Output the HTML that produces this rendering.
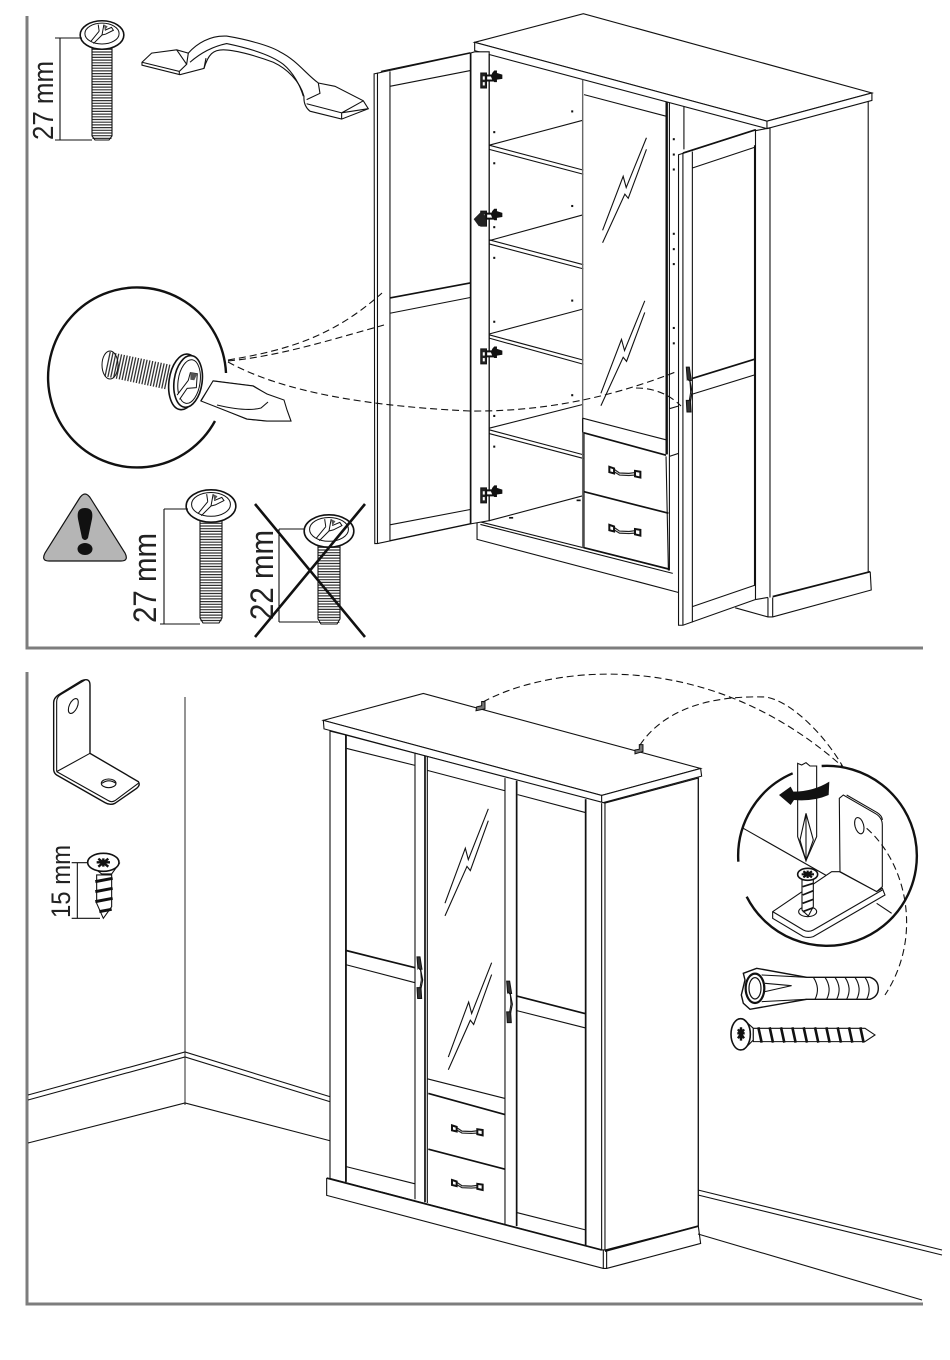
<!DOCTYPE html>
<html><head><meta charset="utf-8"><style>
html,body{margin:0;padding:0;background:#fff;width:950px;height:1360px;overflow:hidden}
svg{display:block}
svg *{vector-effect:non-scaling-stroke}
text{font-family:"Liberation Sans",Arial,sans-serif;fill:#222}
.l{fill:none;stroke:#111;stroke-width:1.1}
.t{fill:none;stroke:#111;stroke-width:1.7}
.w{fill:#fff;stroke:#111;stroke-width:1.1}
.d{fill:none;stroke:#111;stroke-width:1.1;stroke-dasharray:7 4}
</style></head><body>
<svg width="950" height="1360" viewBox="0 0 950 1360" xmlns="http://www.w3.org/2000/svg">
<defs>
<g id="hinge">
<rect x="356" y="176" width="17" height="36" fill="#222" stroke="#111"/>
<rect x="362" y="184" width="6" height="8" fill="#fff"/>
<rect x="362" y="198" width="6" height="8" fill="#fff"/>
<rect x="372" y="182" width="24" height="12" fill="#fff" stroke="#111" stroke-width="2"/>
<path d="M386 184L390 176L396 170H404V176L420 180V190L404 192V198H396L390 192Z" fill="#111"/>
</g>
<g id="dh">
<path d="M16 6L32 15L60 16L78 14" fill="none" stroke="#222" stroke-width="1.2"/>
<path d="M16 12L32 20L60 21L78 20" fill="none" stroke="#222" stroke-width="1.2"/>
<path d="M2 0L16 4V16L2 13Z" fill="#fff" stroke="#111" stroke-width="2"/>
<path d="M78 10L94 12V26L78 23Z" fill="#fff" stroke="#111" stroke-width="2"/>
</g>
<g id="bolt">
<polyline class="l" points="0 223 61 93 70 120 130 0"/>
<polyline class="l" points="0 253 66 136 76 146 130 28"/>
</g>
<g id="vh">
<path d="M3 0H12L18 32H6Z" fill="#333" stroke="#111"/>
<path d="M6 28L14 34L20 60L15 82L6 84" fill="#fff" stroke="#111" stroke-width="1.2"/>
<path d="M14 34L16 60L12 80" fill="none" stroke="#111"/>
<path d="M3 80H15L17 108H5Z" fill="#333" stroke="#111"/>
</g>
<g id="head">
<ellipse cx="0" cy="0" rx="23" ry="15" fill="#fff" stroke="#111" stroke-width="1.6"/>
<ellipse cx="0" cy="-1.5" rx="18" ry="11" fill="#fff" stroke="#111"/>
<path d="M-12 7L-3 -4M-9 9L0 0M-3 -4L-4 -11M0 0L2 -11M3 -5L10 -8L12 -5L4 -1L0 0" fill="none" stroke="#111"/>
<path d="M2 -11L6 -9L3 -5Z" fill="#555"/>
</g>
</defs>

<!-- frames -->
<path d="M27 16V648H923" fill="none" stroke="#7d7d7d" stroke-width="3"/>
<path d="M27 672V1304H923" fill="none" stroke="#7d7d7d" stroke-width="3"/>
<line x1="185" y1="697" x2="185" y2="1105" stroke="#666" stroke-width="1.4"/>

<!-- ==== top panel cabinet ==== -->
<g transform="translate(360.6 0) scale(.3375 .4149)">
<polygon class="w" points="338,102 660,33 1515,224 1204,292"/>
<polygon class="w" points="338,102 338,122 1204,310 1515,242 1515,224 1204,292"/>
<line class="l" x1="1204" y1="292" x2="1204" y2="310"/>
<path class="l" d="M1504 244V1378M1213 308V1440M1170 315V1445M1213 308L1170 315"/>
<path class="w" d="M1110 1465L1207 1487L1207 1440L1110 1440Z" style="stroke:none"/>
<path class="l" d="M1110 1465L1207 1487H1221L1513 1422L1510 1378M1207 1440V1487M1221 1440V1487M1170 1445L1207 1440"/>
<line class="t" x1="1221" y1="1438" x2="1510" y2="1378"/>
<!-- base -->
<path class="l" d="M345 1258V1300L942 1428"/>
<path class="l" d="M355 1258L915 1372M355 1264L925 1382"/>
<!-- interior -->
<path class="l" d="M381 350L658 290M381 350L660 410M381 360L660 420M381 580L658 518M381 578L660 638M381 588L660 648M381 805L658 745M381 807L660 868M381 815L660 878M381 1032L658 975M381 1036L660 1096M381 1045L660 1105M381 1255L658 1195"/>
<line x1="658" y1="192" x2="658" y2="1320" stroke="#666" stroke-width="1.4"/>
<g fill="#111">
<rect x="624" y="266" width="6" height="5"/><rect x="393" y="316" width="6" height="5"/><rect x="393" y="391" width="6" height="5"/><rect x="624" y="494" width="6" height="5"/><rect x="393" y="545" width="6" height="5"/><rect x="393" y="619" width="6" height="5"/><rect x="624" y="722" width="6" height="5"/><rect x="393" y="773" width="6" height="5"/><rect x="624" y="950" width="6" height="5"/><rect x="393" y="1000" width="6" height="5"/><rect x="393" y="1074" width="6" height="5"/>
<rect x="925" y="333" width="6" height="5"/><rect x="925" y="370" width="6" height="5"/><rect x="925" y="406" width="6" height="5"/><rect x="925" y="561" width="6" height="5"/><rect x="925" y="598" width="6" height="5"/><rect x="925" y="634" width="6" height="5"/><rect x="925" y="788" width="6" height="5"/><rect x="925" y="825" width="6" height="5"/>
<rect x="640" y="1204" width="12" height="4"/><rect x="440" y="1246" width="12" height="4"/>
</g>
<!-- mirror door -->
<path class="l" d="M662 228L905 280M905 245V1095M915 248V1375M958 258V360M905 1100L912 1375M915 985L945 978M915 1100L945 1092"/>
<line class="t" x1="908" y1="246" x2="908" y2="1095"/>
<use href="#bolt" transform="translate(717 332)"/>
<use href="#bolt" transform="translate(712 725)"/>
<!-- drawers -->
<path class="l" d="M658 1008L905 1060M658 1008V1042M662 1045V1320"/>
<line class="t" x1="660" y1="1043" x2="905" y2="1097"/>
<line class="t" x1="662" y1="1185" x2="912" y2="1237"/>
<line class="t" x1="662" y1="1320" x2="915" y2="1372"/>
<use href="#dh" transform="translate(735 1125)"/>
<use href="#dh" transform="translate(735 1265)"/>
<!-- left door -->
<path class="w" d="M40 178L325 128L338 125H381V1255L330 1262L50 1310H42Z"/>
<path class="l" d="M50 175V1310M87 172V1305M87 208L325 170M87 755L325 717M87 1265L325 1228M87 1303L325 1262M381 130V1255"/>
<line class="t" x1="87" y1="718" x2="325" y2="682"/>
<line class="t" x1="326" y1="128" x2="326" y2="1262"/>
<line class="l" x1="60" y1="172" x2="325" y2="127"/>
<use href="#hinge" transform="translate(0 0)"/>
<use href="#hinge" transform="translate(0 333)"/>
<path d="M335 528L355 512L370 520L370 545L350 545Z" fill="#222"/>
<use href="#hinge" transform="translate(0 665)"/>
<use href="#hinge" transform="translate(0 1000)"/>
<!-- right door -->
<path class="w" d="M942 373L1170 313V1445L955 1507H942Z"/>
<path class="l" d="M955 370V1507M983 365V1500M983 405L1168 355M983 950L1170 903M983 1462L1170 1410"/>
<line class="t" x1="955" y1="369" x2="1170" y2="313"/>
<line class="t" x1="1168" y1="350" x2="1168" y2="1412"/>
<line class="t" x1="983" y1="912" x2="1170" y2="865"/>
<use href="#vh" transform="translate(962 885)"/>
</g>

<!-- top panel small parts -->
<g transform="translate(20 0) scale(.3333 .4149)">
<path class="w" d="M366 150L395 128L470 120L505 128C530 105 570 85 620 87C680 95 750 110 780 125C830 145 860 180 895 200L945 208L1030 243L1045 262L965 287L870 268Q850 255 852 232C840 195 800 165 760 150C700 132 640 120 610 120C580 120 565 130 552 165L480 180L366 157Z"/>
<path class="l" d="M366 150L478 172L500 155L470 120M478 172V180M505 128L500 155M510 150Q560 115 620 105C680 115 750 130 790 155C820 175 840 205 850 232M895 200L900 225L860 240M860 250L965 272L1045 262M965 272V287M1030 243L965 272M552 165L558 140"/>
<path class="w" d="M543 965L580 918L700 930L740 950L790 965L800 990L812 1015L740 1015L680 1010Z"/>
<path class="l" d="M590 978Q680 995 720 985T745 970"/>
</g>

<!-- screws -->
<g>
<line x1="102" y1="46" x2="102" y2="140" stroke="#333" stroke-width="19" stroke-dasharray="1.2 1.5"/>
<path class="l" d="M92 46V136L95 140H109L112 136V46"/>
<use href="#head" transform="translate(102 35) scale(.95)"/>
<path class="l" d="M55 38H82M55 140H92M60 38V140"/>
<text transform="translate(53 140) rotate(-90)" font-size="29" textLength="79" lengthAdjust="spacingAndGlyphs">27 mm</text>

<line x1="211" y1="520" x2="211" y2="622" stroke="#333" stroke-width="21" stroke-dasharray="1.2 1.5"/>
<path class="l" d="M200 520V618L203 623H219L222 618V520"/>
<use href="#head" transform="translate(211 506) scale(1.08)"/>
<path class="l" d="M160 624H200M164 509H188M164 509V624"/>
<text transform="translate(156 623) rotate(-90)" font-size="32" textLength="90" lengthAdjust="spacingAndGlyphs">27 mm</text>

<line x1="329" y1="544" x2="329" y2="623" stroke="#333" stroke-width="21" stroke-dasharray="1.2 1.5"/>
<path class="l" d="M318 544V619L321 624H337L340 619V544"/>
<use href="#head" transform="translate(329 531) scale(1.08)"/>
<path class="l" d="M279 529H305M279 622H318M279 529V622"/>
<text transform="translate(273 620) rotate(-90)" font-size="32" textLength="90" lengthAdjust="spacingAndGlyphs">22 mm</text>
<path d="M255 504L365 637M365 504L255 637" stroke="#111" stroke-width="2.6" fill="none"/>

<!-- warning -->
<path d="M85 494Q88 494 91 499L125 553Q129 561 121 561H49Q41 561 45 553L79 499Q82 494 85 494Z" fill="#b5b5b5" stroke="#111" stroke-width="1.2"/>
<path d="M85 508C92 508 93 513 92 519L88 538Q85 542 82 538L78 519C77 513 78 508 85 508Z" fill="#111"/>
<ellipse cx="85" cy="549" rx="7.5" ry="6" fill="#111"/>

<!-- magnifier -->
<path d="M215 421A89 90 0 1 1 226 373" fill="none" stroke="#111" stroke-width="2.4"/>
<line x1="107" y1="364" x2="168" y2="377" stroke="#333" stroke-width="25" stroke-dasharray="1.3 1.6"/>
<ellipse cx="110" cy="365" rx="8" ry="14" fill="none" stroke="#111"/>
<g transform="translate(185 382) rotate(8)">
<ellipse cx="-1" cy="0" rx="15" ry="28" fill="#fff" stroke="#111" stroke-width="1.6"/>
<ellipse cx="3" cy="-1" rx="14" ry="26" fill="#fff" stroke="#111" stroke-width="1.6"/>
<ellipse cx="4" cy="-1" rx="11" ry="22" fill="#fff" stroke="#111"/>
<path d="M-6 14L3 -2L4 -10L11 -10L12 4L3 6L-3 18" fill="#fff" stroke="#111"/>
<path d="M4 -10L11 -10L9 -3L5 -3Z" fill="#555"/>
</g>
<path class="w" d="M201 401L213 381L253 386L267 394L284 400L287 410L291 421L267 421L247 419Z"/>
<path class="l" d="M217 405Q247 412 261 408L268 402"/>
</g>

<!-- dashes top -->
<path class="d" d="M228 360C290 350 335 335 382 293M228 361C280 356 330 340 384 325M228 362C270 385 340 405 470 411C560 412 630 390 678 371M636 388C655 388 670 395 681 406"/>

<!-- ==== bottom panel walls ==== -->
<path class="l" d="M28 1095L185 1052L331 1097M28 1100L185 1057L331 1102M28 1143L185 1103L331 1141M698 1190L942 1250M698 1195L942 1255M698 1234L922 1300"/>

<!-- bottom cabinet -->
<g transform="translate(310 680) scale(.3333 .3846)">
<polygon class="w" points="40,105 340,35 1172,230 875,300"/>
<polygon class="w" points="40,105 42,127 875,320 1175,250 1172,230 875,300"/>
<line class="l" x1="875" y1="300" x2="875" y2="320"/>
<path class="w" d="M60 133V1296L875 1482H885L1165 1420V255L885 320L107 143Z"/>
<path class="l" d="M107 143V1305M875 320V1482M885 320V1482M1165 255V1420M315 190V1350M110 178L315 222M107 740L315 787M107 1265L315 1310M352 235L585 288M352 1037L585 1088M352 1037V1075M585 255V1415M623 298L828 345M622 860L828 905M622 1385L828 1430M828 310V1470M352 200V1360"/>
<path class="t" d="M108 143V1305M345 197V1358M620 262V1420M107 703L315 748M355 1075L585 1130M355 1220L585 1272M622 822L828 868M50 1295L875 1482M885 1485L1165 1420M827 310V1470"/>
<path class="l" d="M50 1295V1340L880 1530H890L1172 1465L1165 1420M880 1482V1530M890 1482V1530"/>
<use href="#bolt" transform="translate(405 335) scale(1 1.1)"/>
<use href="#bolt" transform="translate(415 735) scale(1 1.1)"/>
<use href="#dh" transform="translate(424 1158)"/>
<use href="#dh" transform="translate(424 1300)"/>
<use href="#vh" transform="translate(318 720)"/>
<use href="#vh" transform="translate(587 783)"/>
<path d="M500 70L515 67V56H525V75L498 80Z" fill="#777" stroke="#111"/>
<path d="M975 182L988 180V168H999V186L975 192Z" fill="#777" stroke="#111"/>
</g>
<path class="d" d="M483 702C540 670 700 640 843 767M640 745C660 715 700 695 765 697C790 700 825 735 843 767"/>

<!-- detail circle -->
<g transform="translate(700 740) scale(.3333)">
<path d="M365 78A270 270 0 1 1 140 470" fill="none" stroke="#111" stroke-width="2.4"/>
<path d="M115 365A270 270 0 0 1 278 100" fill="none" stroke="#111" stroke-width="2.4"/>
<path class="l" d="M130 265L385 410M530 490L575 520"/>
<path class="w" d="M293 70L305 75L318 68L330 78L350 78V290L318 362L293 290Z"/>
<path class="l" d="M318 220L300 300L318 362L340 300ZM318 220V362"/>
<path d="M388 125L386 165Q340 185 282 180L272 195L237 165L272 140L280 155Q340 155 388 125Z" fill="#111"/>
<path class="w" d="M418 175L430 165L525 220Q547 232 547 255V440L530 455L420 395Z"/>
<path class="l" d="M440 165L532 218Q547 228 547 240"/>
<ellipse class="w" cx="478" cy="257" rx="13" ry="25" transform="rotate(-15 478 257)"/>
<path class="w" d="M218 515L395 395L418 395L530 455L547 445L555 465L340 590Q325 595 310 590L218 535Z"/>
<path class="l" d="M218 515L310 570Q325 578 340 570L547 450"/>
<ellipse class="w" cx="323" cy="515" rx="27" ry="15"/>
<path class="w" d="M306 420H340V500L325 528L306 510Z"/>
<path class="t" d="M308 440L340 430M308 465L340 452M308 490L340 478M308 515L340 503"/>
<ellipse class="w" cx="323" cy="403" rx="30" ry="18" style="stroke-width:1.6"/>
<path d="M305 403H342M323 392V414M310 394L336 412M336 394L310 412" stroke="#111" stroke-width="2.2"/>
<path class="d" d="M500 265C620 370 670 590 555 765"/>
<!-- plug -->
<path class="w" d="M130 700L170 685L320 712H510Q535 720 535 745Q535 770 510 778H320L150 808L130 790L124 765L135 720Z" style="stroke-width:1.4"/>
<ellipse class="w" cx="165" cy="745" rx="28" ry="44" style="stroke-width:2.2"/>
<ellipse class="w" cx="165" cy="745" rx="18" ry="32" style="stroke-width:1.2"/>
<path class="l" d="M195 730L275 737M195 755L275 737M185 705L320 712M185 785L320 778"/>
<path class="l" d="M340 712Q362 745 345 778M375 712Q397 745 380 778M405 712Q427 745 410 778M435 712Q457 745 440 778M465 712Q487 745 470 778M495 712Q517 745 500 778"/>
<!-- wood screw -->
<ellipse class="w" cx="122" cy="883" rx="29" ry="47" style="stroke-width:1.6"/>
<path class="l" d="M130 838L160 865V900L130 930"/>
<path d="M112 880H134M123 862V902M114 868L132 895M132 868L114 895" stroke="#111" stroke-width="2.4"/>
<path class="w" d="M160 865H495L525 885L495 905H160Z"/>
<path d="M175 862L185 908M209 862L219 908M243 862L253 908M277 862L287 908M311 862L321 908M345 862L355 908M379 862L389 908M413 862L423 908M447 862L457 908M481 862L491 908" stroke="#111" stroke-width="2.6" fill="none"/>
</g>

<!-- bracket -->
<g transform="translate(20 670) scale(.3333)">
<path class="w" d="M101 100Q100 85 115 75L185 32Q210 22 210 45V250L355 335Q362 345 350 355L285 400Q270 407 255 398L110 315Q100 308 101 295Z" style="stroke-width:1.4"/>
<path class="l" d="M110 305V95Q110 80 125 72L195 30M110 305L210 250M110 305L265 392Q275 398 285 392L355 340"/>
<ellipse class="w" cx="160" cy="108" rx="12" ry="24" transform="rotate(25 160 108)"/>
<ellipse class="w" cx="266" cy="340" rx="22" ry="13"/>
<path class="l" d="M246 340Q266 325 288 340"/>
<!-- small screw -->
<path class="w" d="M205 580L245 612H275L298 580Z"/>
<ellipse class="w" cx="250" cy="577" rx="47" ry="27" style="stroke-width:1.6"/>
<path d="M230 577H270M250 565V590M235 566L265 590M265 566L235 590" stroke="#111" stroke-width="2.4"/>
<path class="w" d="M230 615H275V710L250 745L230 700Z"/>
<path d="M226 635L278 625M226 665L278 655M226 695L278 685M238 725L275 718" stroke="#111" stroke-width="3" fill="none"/>
<path class="l" d="M155 578H205M155 745H240M172 578V745"/>
</g>
<text transform="translate(70 918) rotate(-90)" font-size="27" textLength="73" lengthAdjust="spacingAndGlyphs">15 mm</text>
</svg>
</body></html>
